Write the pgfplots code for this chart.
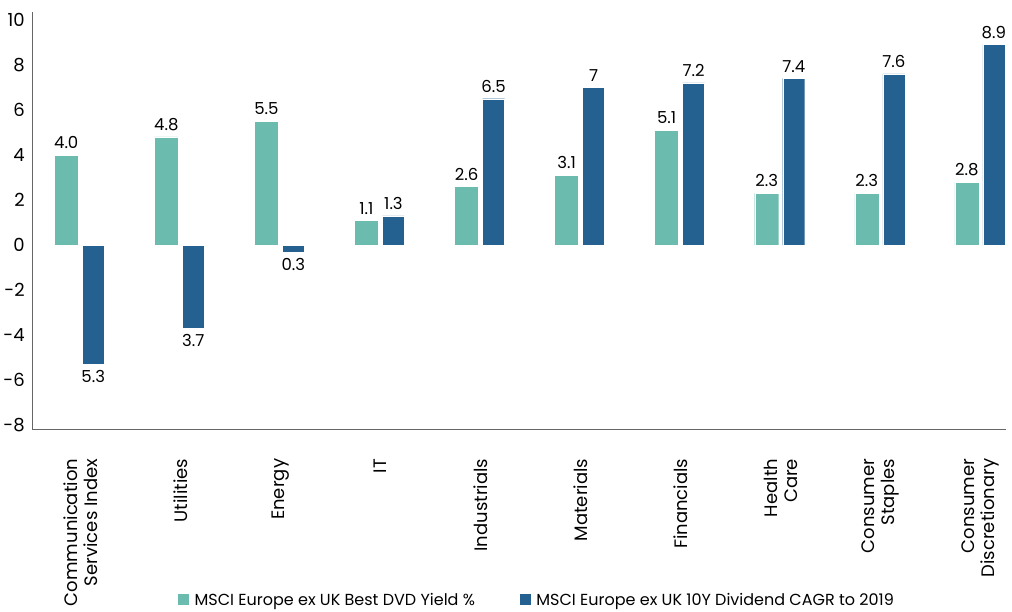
\documentclass[border=0pt]{standalone}
\usepackage{pgfplots}
\pgfplotsset{compat=1.18}
\usepackage{pgfplotstable}
\usepackage{fontspec}
\setmainfont{Poppins}

\definecolor{tealbar}{HTML}{6BBBAE}
\definecolor{bluebar}{HTML}{246190}
\definecolor{axisgray}{HTML}{666666}

% x  yield  ylab  cagr  clab
\pgfplotstableread{
x a alab b blab
0 4.0 4.0 -5.3 5.3
1 4.8 4.8 -3.7 3.7
2 5.5 5.5 -0.3 0.3
3 1.1 1.1 1.3 1.3
4 2.6 2.6 6.5 6.5
5 3.1 3.1 7.0 7
6 5.1 5.1 7.2 7.2
7 2.3 2.3 7.4 7.4
8 2.3 2.3 7.6 7.6
9 2.8 2.8 8.9 8.9
}\sectors

\begin{document}
\begin{tikzpicture}
\begin{axis}[
    scale only axis,
    width=973pt, height=417pt,
    xmin=-0.48, xmax=9.25,
    ymin=-8.18, ymax=10.35,
    ybar,
    axis lines*=left,
    axis line style={axisgray, line width=1pt, -},
    major tick length=0pt,
    ytick={-8,-6,...,10},
    yticklabel style={xshift=-4pt, font=\fontsize{18}{20}\selectfont, /pgf/number format/assume math mode=true},
    xtick=data,
    xticklabels={{Communication\\Services Index},Utilities,Energy,IT,Industrials,Materials,Financials,{Health\\Care},{Consumer\\Staples},{Consumer\\Discretionary}},
    xticklabel style={yshift=-26pt, rotate=90, anchor=east, align=right,
        font=\fontsize{18}{20}\selectfont},
    point meta=explicit symbolic,
    nodes near coords,
    nodes near coords style={font=\fontsize{16.5}{18}\selectfont, black, inner sep=6pt},
    legend columns=2,
    legend style={at={(0.518,-0.41)}, anchor=center, draw=none,
        font=\fontsize{16}{18}\selectfont,
        /tikz/every even column/.append style={column sep=42pt}},
    legend image code/.code={\fill[#1] (0pt,-5pt) rectangle (12pt,7pt);},
    legend cell align=left,
]
\addplot[bar width=0.24, bar shift=-0.14, fill=tealbar, draw=white, line width=0.4pt]
    table[x=x, y=a, meta=alab] {\sectors};
\addlegendentry{\hspace{3pt}MSCI Europe ex UK Best DVD Yield \%}
% negative bars carry their label underneath
\addplot[bar width=0.22, bar shift=0.13, fill=bluebar, draw=white, line width=0.4pt,
    visualization depends on={\thisrow{b} \as \bval},
    every node near coord/.append code={\ifdim\bval pt<0pt \pgfkeysalso{anchor=north}\fi}]
    table[x=x, y=b, meta=blab] {\sectors};
\addlegendentry{\hspace{3pt}MSCI Europe ex UK 10Y Dividend CAGR to 2019}
\end{axis}
\path ([yshift=12pt]current axis.north);
\end{tikzpicture}
\end{document}
